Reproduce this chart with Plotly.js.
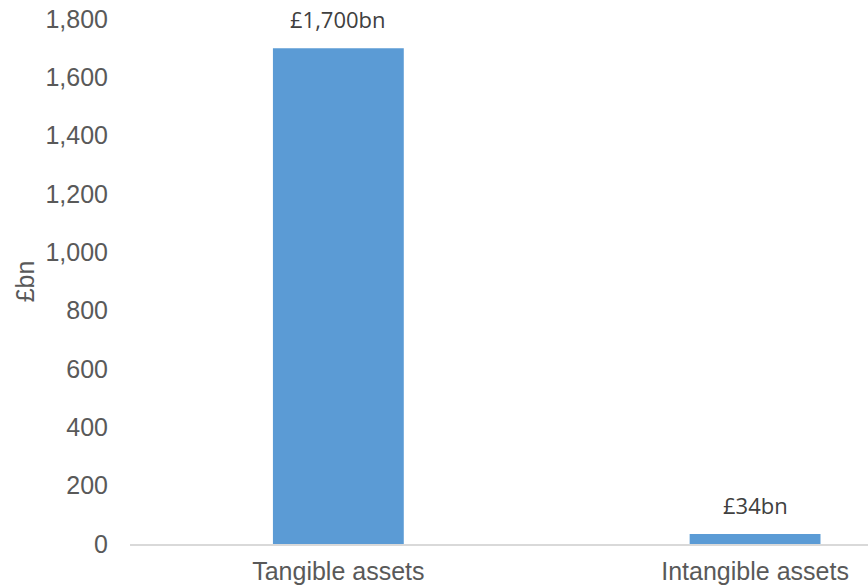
<!DOCTYPE html>
<html>
<head>
<meta charset="utf-8">
<script src="https://cdn.plot.ly/plotly-3.0.1.min.js"></script>
<style>html,body{margin:0;padding:0;background:#fff;}#chart{width:868px;height:588px;}</style>
</head>
<body>
<div id="chart"></div>
<script>
var categories = ["Tangible assets", "Intangible assets"];
var values = [1700, 34];
var dataLabels = ["£1,700bn", "£34bn"];
var yTickVals = [0, 200, 400, 600, 800, 1000, 1200, 1400, 1600, 1800];
var yTickText = ["0", "200", "400", "600", "800", "1,000", "1,200", "1,400", "1,600", "1,800"];

var trace = {
  type: "bar",
  x: categories,
  y: values,
  width: 0.314,
  marker: {color: "#5B9BD5"},
  hoverinfo: "none"
};

var annotations = categories.map(function(c, i) {
  return {
    x: c, y: values[i], xref: "x", yref: "y",
    text: dataLabels[i], showarrow: false,
    yanchor: "bottom", yshift: 12,
    font: {family: "Open Sans, Noto Sans, sans-serif", size: 22, color: "#404040"}
  };
});

var layout = {
  width: 868, height: 588,
  margin: {l: 130, r: 0, t: 19, b: 44},
  paper_bgcolor: "#fff", plot_bgcolor: "#fff",
  showlegend: false,
  xaxis: {
    type: "category",
    range: [-0.5, 1.271],
    showline: true, linecolor: "#d9d9d9", linewidth: 1.5,
    showgrid: false, zeroline: false, ticks: "",
    ticklabelstandoff: 4,
    tickfont: {family: "Liberation Sans, Arial, sans-serif", size: 25, color: "#595959"},
    fixedrange: true
  },
  yaxis: {
    range: [0, 1800],
    tickvals: yTickVals, ticktext: yTickText,
    showline: false, showgrid: false, zeroline: false, ticks: "",
    ticklabelstandoff: 21,
    tickfont: {family: "Liberation Sans, Arial, sans-serif", size: 25, color: "#595959"},
    title: {text: "£bn", standoff: 3, font: {family: "Liberation Sans, Arial, sans-serif", size: 25, color: "#595959"}},
    fixedrange: true
  },
  annotations: annotations
};

Plotly.newPlot("chart", [trace], layout, {displayModeBar: false, staticPlot: true});
</script>
</body>
</html>
